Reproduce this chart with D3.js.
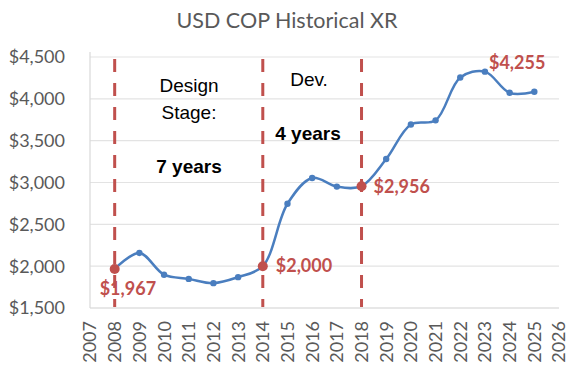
<!DOCTYPE html>
<html lang="en">
<head>
<meta charset="UTF-8" />
<title>USD COP Historical XR</title>
<script src="https://d3js.org/d3.v7.min.js"></script>
<style>
  body { margin: 0; background: #fff; }
  svg { display: block; }
  .tick-label { font-family: Lato, sans-serif; font-size: 18px; fill: #595959; }
  .title { font-family: Lato, sans-serif; font-size: 21.5px; fill: #595959; }
  .note { font-family: "Liberation Sans", Arial, sans-serif; font-size: 19px; fill: #000; }
  .red-label { font-family: Lato, sans-serif; font-size: 18px; font-weight: bold; fill: #c0504d; }
</style>
</head>
<body>
<div id="chart"></div>
<script>
// ---- data ----
const years = [2008, 2009, 2010, 2011, 2012, 2013, 2014, 2015, 2016, 2017,
               2018, 2019, 2020, 2021, 2022, 2023, 2024, 2025];
const rates = [1967, 2158, 1898, 1848, 1797, 1869, 2000, 2746, 3054, 2951,
               2956, 3281, 3693, 3743, 4255, 4325, 4072, 4085];
const milestoneYears = [2008, 2014, 2018];
const yTicks = [1500, 2000, 2500, 3000, 3500, 4000, 4500];
const xTicks = d3.range(2007, 2027);
// value labels: [year, rate, text]
const valueLabels = [
  [2008, 1967, "$1,967"],
  [2014, 2000, "$2,000"],
  [2018, 2956, "$2,956"],
  [2023, 4325, "$4,255"]
];

const width = 581, height = 374;
const plot = { left: 90, right: 559, top: 57, bottom: 308 };

const svg = d3.select("#chart").append("svg")
  .attr("width", width).attr("height", height);

const x = d3.scaleLinear().domain([2007, 2026]).range([plot.left, plot.right]);
const y = d3.scaleLinear().domain([1500, 4500]).range([plot.bottom, plot.top]);

// title
svg.append("text").attr("class", "title")
  .attr("x", 287).attr("y", 28).attr("text-anchor", "middle")
  .text("USD COP Historical XR");

// gridlines
svg.append("g").selectAll("line").data(yTicks).join("line")
  .attr("x1", plot.left).attr("x2", plot.right)
  .attr("y1", d => y(d)).attr("y2", d => y(d))
  .attr("stroke", d => d === 1500 ? "#d0d0d0" : "#e3e3e3")
  .attr("stroke-width", 1.2);

// left axis line
svg.append("line")
  .attr("x1", plot.left).attr("x2", plot.left)
  .attr("y1", plot.top - 5).attr("y2", plot.bottom)
  .attr("stroke", "#d9d9d9").attr("stroke-width", 1.2);

// y tick labels
svg.append("g").selectAll("text").data(yTicks).join("text")
  .attr("class", "tick-label")
  .attr("x", 65).attr("y", d => y(d)).attr("dy", "0.36em")
  .attr("text-anchor", "end")
  .text(d => "$" + d3.format(",")(d));

// x tick labels (rotated)
svg.append("g").selectAll("text").data(xTicks).join("text")
  .attr("class", "tick-label")
  .attr("transform", d => `translate(${x(d)},321) rotate(-90)`)
  .attr("dy", "0.36em")
  .attr("text-anchor", "end")
  .text(d => d);

// milestone dashed lines
svg.append("g").selectAll("line").data(milestoneYears).join("line")
  .attr("x1", d => x(d)).attr("x2", d => x(d))
  .attr("y1", plot.top + 2).attr("y2", plot.bottom - 1)
  .attr("stroke", "#c0504d").attr("stroke-width", 3)
  .attr("stroke-dasharray", "13,11");

// series line
const pts = years.map((yr, i) => [yr, rates[i]]);
const line = d3.line()
  .x(d => x(d[0])).y(d => y(d[1]))
  .curve(d3.curveCatmullRom.alpha(0.5));

svg.append("path").datum(pts)
  .attr("d", line)
  .attr("fill", "none")
  .attr("stroke", "#4a7ebf")
  .attr("stroke-width", 2.5);

svg.append("g").selectAll("circle").data(pts).join("circle")
  .attr("cx", d => x(d[0])).attr("cy", d => y(d[1]))
  .attr("r", 3.2).attr("fill", "#4a7ebf");

// milestone markers
svg.append("g").selectAll("circle")
  .data(pts.filter(d => milestoneYears.includes(d[0]))).join("circle")
  .attr("cx", d => x(d[0])).attr("cy", d => y(d[1]))
  .attr("r", 5).attr("fill", "#c0504d");

// red value labels
const labelOffset = { 2008: [-15, 26], 2014: [13, 6], 2018: [12, 7], 2023: [4, -3] };
svg.append("g").selectAll("text").data(valueLabels).join("text")
  .attr("class", "red-label")
  .attr("x", d => x(d[0]) + labelOffset[d[0]][0])
  .attr("y", d => y(d[1]) + labelOffset[d[0]][1])
  .text(d => d[2]);

// stage notes
const notes = [
  { text: "Design", x: 189, y: 92, bold: false },
  { text: "Stage:", x: 189, y: 119, bold: false },
  { text: "7 years", x: 189, y: 173, bold: true },
  { text: "Dev.", x: 309, y: 86, bold: false },
  { text: "4 years", x: 308, y: 140, bold: true }
];
svg.append("g").selectAll("text").data(notes).join("text")
  .attr("class", "note")
  .attr("x", d => d.x).attr("y", d => d.y)
  .attr("text-anchor", "middle")
  .attr("font-weight", d => d.bold ? "bold" : "normal")
  .text(d => d.text);
</script>
</body>
</html>
